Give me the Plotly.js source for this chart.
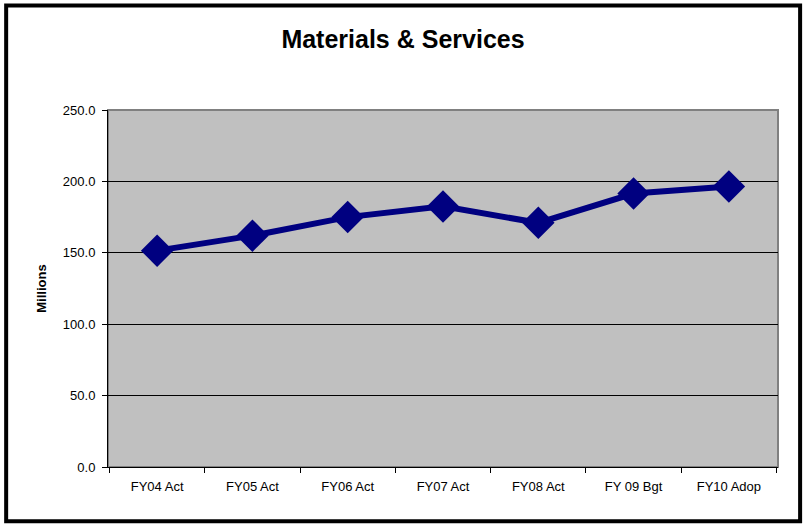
<!DOCTYPE html>
<html>
<head>
<meta charset="utf-8">
<script src="https://cdn.plot.ly/plotly-3.0.1.min.js"></script>
<style>html,body{margin:0;padding:0;background:#fff;}#chart{width:806px;height:527px;}</style>
</head>
<body>
<div id="chart"></div>
<script>
const categories = ["FY04 Act", "FY05 Act", "FY06 Act", "FY07 Act", "FY08 Act", "FY 09 Bgt", "FY10 Adop"];
const values = [151.5, 162, 175, 182.5, 171, 191.5, 196.5];
const yTicks = [0, 50, 100, 150, 200, 250];

const trace = {
  x: categories,
  y: values,
  type: 'scatter',
  mode: 'lines+markers',
  line: {color: '#000080', width: 6},
  marker: {symbol: 'diamond', size: 25, color: '#000080'},
  hoverinfo: 'x+y'
};

const layout = {
  width: 806, height: 527,
  margin: {l: 108, r: 28, t: 110, b: 60},
  paper_bgcolor: '#ffffff',
  plot_bgcolor: '#C0C0C0',
  showlegend: false,
  font: {family: 'Liberation Sans, Arial, sans-serif', color: '#000'},
  title: {text: '<b>Materials & Services</b>', font: {size: 25, color: '#000'}, x: 0.5, xanchor: 'center', y: 0.925, yanchor: 'middle'},
  xaxis: {
    type: 'category',
    showline: true, linecolor: '#000', linewidth: 1,
    ticks: 'outside', ticklen: 5, tickcolor: '#000', tickson: 'boundaries',
    showgrid: false, zeroline: false,
    ticklabelstandoff: 7,
    tickfont: {size: 13}
  },
  yaxis: {
    range: [0, 250], tickvals: yTicks, ticktext: yTicks.map(v => v.toFixed(1)),
    showline: true, linecolor: '#000', linewidth: 1,
    ticks: 'outside', ticklen: 5, tickcolor: '#000',
    showgrid: true, gridcolor: '#000', gridwidth: 1,
    zeroline: false,
    ticklabelstandoff: 4,
    tickfont: {size: 13},
    title: {text: '<b>Millions</b>', font: {size: 13}, standoff: 13}
  },
  shapes: [
    {type: 'rect', xref: 'paper', yref: 'paper', x0: 0, x1: 1, y0: 0, y1: 1,
     line: {color: '#808080', width: 2}, layer: 'below'},
    {type: 'rect', xref: 'paper', yref: 'paper', x0: -0.152, x1: 1.033, y0: -0.152, y1: 1.293,
     line: {color: '#000', width: 4}}
  ]
};

Plotly.newPlot('chart', [trace], layout, {displayModeBar: false, staticPlot: true});
</script>
</body>
</html>
